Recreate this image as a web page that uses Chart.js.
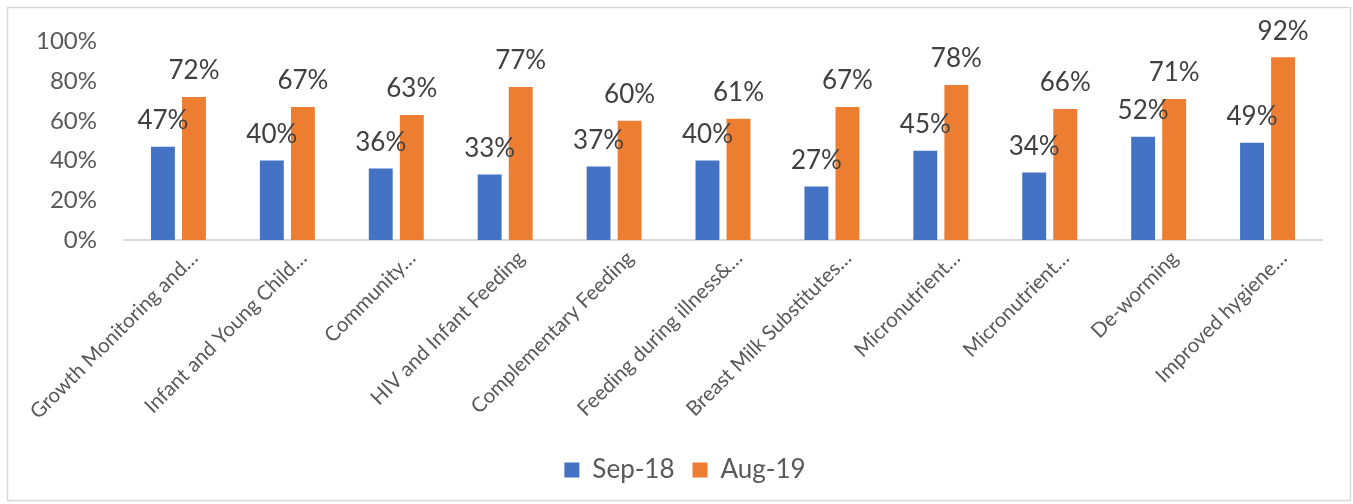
<!DOCTYPE html>
<html>
<head>
<meta charset="utf-8">
<script src="https://cdn.jsdelivr.net/npm/chart.js@4/dist/chart.umd.min.js"></script>
<style>
  html, body { margin: 0; padding: 0; background: #fff; }
  #wrap { width: 1353px; height: 504px; }
</style>
</head>
<body>
<div id="wrap"><canvas id="chart" width="1353" height="504"></canvas></div>
<script>
const categories = ['Growth Monitoring and…', 'Infant and Young Child…', 'Community…', 'HIV and Infant Feeding',
  'Complementary Feeding', 'Feeding during illness&…', 'Breast Milk Substitutes…', 'Micronutrient…',
  'Micronutrient…', 'De-worming', 'Improved hygiene…']
const sep18 = [47, 40, 36, 33, 37, 40, 27, 45, 34, 52, 49]
const aug19 = [72, 67, 63, 77, 60, 61, 67, 78, 66, 71, 92]
const yTicks = [0, 20, 40, 60, 80, 100]

Chart.defaults.font.family = 'Lato'
Chart.defaults.color = '#595959'

// frame around the whole chart, legend nudged to the right like the original
const frame = {
  id: 'frame',
  afterLayout(chart) {
    chart.legend.left += 20
    chart.legend.right += 20
  },
  beforeDraw(chart) {
    const ctx = chart.ctx
    ctx.save()
    ctx.fillStyle = '#fff'
    ctx.fillRect(0, 0, chart.width, chart.height)
    ctx.strokeStyle = '#d9d9d9'
    ctx.lineWidth = 1.5
    ctx.strokeRect(7.5, 7.5, 1343, 493)
    ctx.restore()
  }
}

// value labels above the bars
const barLabels = {
  id: 'barLabels',
  afterDatasetsDraw(chart) {
    const ctx = chart.ctx
    ctx.save()
    ctx.font = '26px Lato'
    ctx.fillStyle = '#404040'
    ctx.textAlign = 'center'
    ctx.textBaseline = 'middle'
    chart.data.datasets.forEach((ds, i) => {
      chart.getDatasetMeta(i).data.forEach((bar, j) => {
        ctx.fillText(ds.data[j] + '%', bar.x, bar.y - 26)
      })
    })
    ctx.restore()
  }
}

new Chart(document.getElementById('chart'), {
  type: 'bar',
  data: {
    labels: categories,
    datasets: [{
      label: 'Sep-18',
      data: sep18,
      backgroundColor: '#4472C4',
      categoryPercentage: 0.57,
      barPercentage: 0.77
    }, {
      label: 'Aug-19',
      data: aug19,
      backgroundColor: '#ED7D31',
      categoryPercentage: 0.57,
      barPercentage: 0.77
    }]
  },
  options: {
    responsive: false,
    animation: false,
    layout: { padding: { left: 8, top: 38, right: 31, bottom: 11 } },
    scales: {
      x: {
        grid: { display: false, drawTicks: false },
        border: { color: '#d9d9d9', width: 2 },
        ticks: {
          font: { size: 20.5 },
          color: '#595959',
          maxRotation: 45,
          minRotation: 45,
          autoSkip: false,
          padding: 6,
          labelOffset: 16
        },
        afterFit(scale) { scale.height = 199 }
      },
      y: {
        min: 0,
        max: 100,
        grid: { display: false, drawTicks: false },
        border: { display: false },
        afterBuildTicks(scale) { scale.ticks = yTicks.map(v => ({ value: v })) },
        ticks: {
          font: { size: 24 },
          color: '#595959',
          padding: 27,
          callback: v => v + '%'
        },
        afterFit(scale) { scale.width = 116 }
      }
    },
    plugins: {
      legend: {
        position: 'bottom',
        labels: {
          boxWidth: 15,
          boxHeight: 15,
          padding: 18,
          font: { size: 26 },
          color: '#595959'
        }
      },
      tooltip: { enabled: false }
    }
  },
  plugins: [frame, barLabels]
})
</script>
</body>
</html>
